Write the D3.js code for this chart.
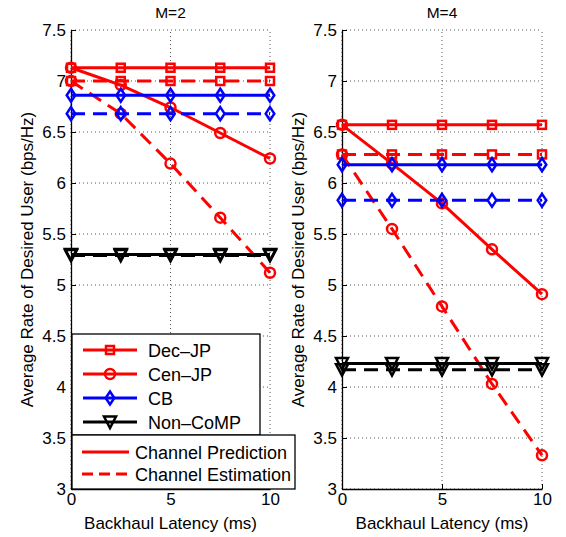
<!DOCTYPE html>
<html>
<head>
<meta charset="utf-8">
<script src="https://cdn.jsdelivr.net/npm/d3@7/dist/d3.min.js"></script>
<style>
  html, body { margin: 0; padding: 0; background: #fff; }
  svg { display: block; font-family: "Liberation Sans", Arial, Helvetica, sans-serif; }
</style>
</head>
<body>
<svg id="chart" width="566" height="537"></svg>
<script>
// Backhaul latency (ms) at which each scheme was evaluated
const latency = [0, 2.5, 5, 7.5, 10];

// M = 2 : average rate of the desired user (bps/Hz)
const decPredM2 = [7.13, 7.13, 7.13, 7.13, 7.13];
const decEstM2  = [7.00, 7.00, 7.00, 7.00, 7.00];
const cenPredM2 = [7.13, 6.96, 6.74, 6.49, 6.24];
const cenEstM2  = [7.00, 6.68, 6.19, 5.66, 5.12];
const cbPredM2  = [6.86, 6.86, 6.86, 6.86, 6.86];
const cbEstM2   = [6.68, 6.68, 6.68, 6.68, 6.68];
const nonPredM2 = [5.30, 5.30, 5.30, 5.30, 5.30];
const nonEstM2  = [5.29, 5.29, 5.29, 5.29, 5.29];

// M = 4
const decPredM4 = [6.57, 6.57, 6.57, 6.57, 6.57];
const decEstM4  = [6.28, 6.28, 6.28, 6.28, 6.28];
const cenPredM4 = [6.57, 6.19, 5.80, 5.35, 4.91];
const cenEstM4  = [6.28, 5.55, 4.79, 4.03, 3.33];
const cbPredM4  = [6.18, 6.18, 6.18, 6.18, 6.18];
const cbEstM4   = [5.83, 5.83, 5.83, 5.83, 5.83];
const nonPredM4 = [4.23, 4.23, 4.23, 4.23, 4.23];
const nonEstM4  = [4.17, 4.17, 4.17, 4.17, 4.17];

// Axis ticks and labels
const xTicks = [0, 5, 10];
const yTicks = [3, 3.5, 4, 4.5, 5, 5.5, 6, 6.5, 7, 7.5];
const panelTitles = ["M=2", "M=4"];
const schemeNames = ["Dec\u2013JP", "Cen\u2013JP", "CB", "Non\u2013CoMP"];
const modeNames = ["Channel Prediction", "Channel Estimation"];
const xLabel = "Backhaul Latency (ms)";
const yLabel = "Average Rate of Desired User (bps/Hz)";

// Visual encoding of the schemes
const schemeStyle = [
  { color: "#ff0000", marker: "square" },
  { color: "#ff0000", marker: "circle" },
  { color: "#0000ff", marker: "diamond" },
  { color: "#000000", marker: "triangle" }
];
const DASH = "14,8";

const panels = [
  { title: panelTitles[0], x0: 71, x1: 270, lblX: 33,
    series: [[decPredM2, decEstM2], [cenPredM2, cenEstM2], [cbPredM2, cbEstM2], [nonPredM2, nonEstM2]] },
  { title: panelTitles[1], x0: 342, x1: 542, lblX: 304,
    series: [[decPredM4, decEstM4], [cenPredM4, cenEstM4], [cbPredM4, cbEstM4], [nonPredM4, nonEstM4]] }
];

const svg = d3.select("#chart");
const yTop = 30, yBot = 489;
const tickFont = "17px";
const labelFont = "17px";

function drawMarker(g, type, cx, cy, color) {
  let sel;
  if (type === "square") {
    sel = g.append("rect").attr("x", cx - 4).attr("y", cy - 4).attr("width", 8).attr("height", 8);
  } else if (type === "circle") {
    sel = g.append("circle").attr("cx", cx).attr("cy", cy).attr("r", 5);
  } else if (type === "diamond") {
    sel = g.append("path").attr("d", `M${cx},${cy - 6.5}L${cx + 4.3},${cy}L${cx},${cy + 6.5}L${cx - 4.3},${cy}Z`);
  } else {
    sel = g.append("path").attr("d", `M${cx - 6},${cy - 5.5}L${cx + 6},${cy - 5.5}L${cx},${cy + 6}Z`);
  }
  sel.attr("fill", "none").attr("stroke", color).attr("stroke-width", 2.5).attr("stroke-linejoin", "miter");
}

panels.forEach(p => {
  const x = d3.scaleLinear().domain([0, 10]).range([p.x0, p.x1]);
  const y = d3.scaleLinear().domain([3, 7.5]).range([yBot, yTop]);
  const g = svg.append("g");

  // dotted grid
  const grid = g.append("g").attr("stroke", "#555").attr("stroke-width", 1).attr("stroke-dasharray", "1,3");
  yTicks.forEach(t => {
    grid.append("line").attr("x1", x(0)).attr("x2", x(10)).attr("y1", y(t)).attr("y2", y(t));
  });
  xTicks.forEach(t => {
    grid.append("line").attr("x1", x(t)).attr("x2", x(t)).attr("y1", y(3)).attr("y2", y(7.5));
  });

  // axes
  const yAxis = d3.axisLeft(y).tickValues(yTicks).tickFormat(d3.format("~g"))
    .tickSizeInner(-5).tickSizeOuter(0).tickPadding(5);
  const xAxis = d3.axisBottom(x).tickValues(xTicks).tickFormat(d3.format("~g"))
    .tickSizeInner(-5).tickSizeOuter(0).tickPadding(4);
  const ya = g.append("g").attr("transform", `translate(${x(0)},0)`).call(yAxis);
  const xa = g.append("g").attr("transform", `translate(0,${y(3)})`).call(xAxis);
  [ya, xa].forEach(a => {
    a.select(".domain").attr("stroke", "#000").attr("stroke-width", 1.3);
    a.selectAll(".tick line").attr("stroke", "#000");
    a.selectAll(".tick text").attr("fill", "#000").style("font-size", tickFont)
      .style("font-family", '"Liberation Sans", Arial, sans-serif');
  });

  // title and axis labels
  g.append("text").attr("x", (p.x0 + p.x1) / 2).attr("y", 18).attr("text-anchor", "middle")
    .style("font-size", "15.5px").text(p.title);
  g.append("text").attr("x", (p.x0 + p.x1) / 2).attr("y", 529).attr("text-anchor", "middle")
    .style("font-size", labelFont).text(xLabel);
  g.append("text").attr("transform", `translate(${p.lblX},${(yTop + yBot) / 2}) rotate(-90)`)
    .attr("text-anchor", "middle").style("font-size", labelFont).text(yLabel);

  // series: prediction (solid) and estimation (dashed)
  const line = d3.line().x((d, i) => x(latency[i])).y(d => y(d));
  p.series.forEach((pair, si) => {
    const st = schemeStyle[si];
    pair.forEach((vals, mi) => {
      const sg = g.append("g");
      sg.append("path").attr("d", line(vals)).attr("fill", "none").attr("stroke", st.color)
        .attr("stroke-width", 3).attr("stroke-dasharray", mi === 1 ? DASH : null);
      vals.forEach((v, i) => drawMarker(sg, st.marker, x(latency[i]), y(v), st.color));
    });
  });
});

// legends (left panel)
const leg1 = svg.append("g");
leg1.append("rect").attr("x", 72).attr("y", 334).attr("width", 188).attr("height", 101)
  .attr("fill", "#fff").attr("stroke", "#000").attr("stroke-width", 1.3);
schemeNames.forEach((name, i) => {
  const cy = 350 + i * 24;
  const st = schemeStyle[i];
  leg1.append("line").attr("x1", 83).attr("x2", 137).attr("y1", cy).attr("y2", cy)
    .attr("stroke", st.color).attr("stroke-width", 3);
  drawMarker(leg1, st.marker, 110, cy, st.color);
  leg1.append("text").attr("x", 148).attr("y", cy + 6.5).style("font-size", "18px").text(name);
});

const leg2 = svg.append("g");
leg2.append("rect").attr("x", 72).attr("y", 435).attr("width", 223).attr("height", 54)
  .attr("fill", "#fff").attr("stroke", "#000").attr("stroke-width", 1.3);
modeNames.forEach((name, i) => {
  const cy = 452 + i * 22;
  leg2.append("line").attr("x1", 82).attr("x2", 129).attr("y1", cy).attr("y2", cy)
    .attr("stroke", "#ff0000").attr("stroke-width", 3).attr("stroke-dasharray", i === 1 ? "11,6" : null);
  leg2.append("text").attr("x", 135).attr("y", cy + 6.5).style("font-size", "18px").text(name);
});
</script>
</body>
</html>
